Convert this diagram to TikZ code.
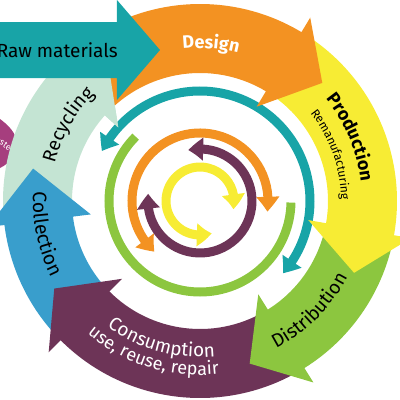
\documentclass[tikz,border=0pt]{standalone}
\usepackage{fontspec}
\setmainfont{Fira Sans}
\usetikzlibrary{arrows.meta,bending,decorations.text}
\definecolor{cTeal}{RGB}{24,164,167}
\definecolor{cOrange}{RGB}{243,146,34}
\definecolor{cYellow}{RGB}{247,236,52}
\definecolor{cGreen}{RGB}{140,198,63}
\definecolor{cPurple}{RGB}{109,52,87}
\definecolor{cBlue}{RGB}{57,158,204}
\definecolor{cMint}{RGB}{196,228,211}
\definecolor{cMagenta}{RGB}{166,62,126}
% color, tail angle, head back angle, tip angle
\newcommand\outerarrow[4]{\fill[#1] (#2:128) arc[start angle=#2,end angle=#3,radius=128] -- (#3:110) -- (#4:170) -- (#3:214) -- (#3:197) arc[start angle=#3,end angle=#2,radius=197] -- cycle;}
\newcommand\fsz[1]{\fontsize{#1}{#1}\selectfont}
\begin{document}
\begin{tikzpicture}[x=1pt,y=1pt,
  ringline/.style={line width=9pt},
  dbl/.style={line width=9pt,arrows={Triangle[width=22pt,length=15pt,bend]-Triangle[width=22pt,length=15pt,bend]}},
  arctext/.style={decorate,decoration={text along path,text align=center,text={#1}}}]
\useasboundingbox (-200,-199) rectangle (200,201);
\clip (-200,-199) rectangle (200,201);
% inner rings
\draw[ringline,cGreen] (135:91) arc[start angle=135,end angle=359,radius=91];
\draw[dbl,cTeal] (-41:110) arc[start angle=-41,end angle=153,radius=110];
\draw[dbl,cOrange] (-9:68) arc[start angle=-9,end angle=228,radius=68];
\draw[dbl,cPurple] (172:52) arc[start angle=172,end angle=463,radius=52];
\draw[dbl,cYellow] (-14:34) arc[start angle=-14,end angle=290,radius=34];
% waste
\fill[cMagenta] (-200,82) .. controls (-192,76) and (-183,68) .. (-183,56) .. controls (-183,46) and (-190,38) .. (-200,33) -- cycle;
\node[anchor=base east,rotate=-35,text=white,font=\fsz{9},inner sep=0pt] (waste) at (-191,50) {Waste};
% outer ring arrows
\outerarrow{cMint}{185}{138}{123}
\outerarrow{cBlue}{223}{187}{169}
\outerarrow{cPurple}{-60}{-135}{-149}
\outerarrow{cGreen}{-12}{-58}{-73}
\outerarrow{cYellow}{57}{-10}{-25}
\outerarrow{cOrange}{132}{59}{44}
\fill[cMint] (138:110) -- (123:170) -- (138:214) -- cycle;
% raw materials
\fill[cTeal] (-210,123) -- (-83,123) -- (-83,101) -- (-40,151) -- (-83,201) -- (-83,179) -- (-210,179) -- cycle;
\node[anchor=east,inner sep=0pt,font=\fsz{19}] (raw) at (-82,151) {Raw materials};
% labels
\path[arctext={|\fsz{18}\bfseries\color{white}|Design}] (120:153) arc[start angle=120,end angle=52,radius=153];
\path[arctext={|\fsz{18}\bfseries|Production}] (60:162) arc[start angle=60,end angle=-14,radius=162];
\path[arctext={|\fsz{12}|Remanufacturing}] (60:141) arc[start angle=60,end angle=-21,radius=141];
\path[arctext={|\fsz{19}|Distribution}] (-85:166) arc[start angle=-85,end angle=-5,radius=166];
\path[arctext={|\fsz{19}\color{white}|Consumption}] (-145:156) arc[start angle=-145,end angle=-66,radius=156];
\path[arctext={|\fsz{18}\color{white}|use, reuse, repair}] (-150:174) arc[start angle=-150,end angle=-64,radius=174];
\path[arctext={|\fsz{19.5}|Collection}] (160:167) arc[start angle=160,end angle=224,radius=167];
\path[arctext={|\fsz{19}|Recycling}] (185:150) arc[start angle=185,end angle=115,radius=150];
\end{tikzpicture}
\end{document}
